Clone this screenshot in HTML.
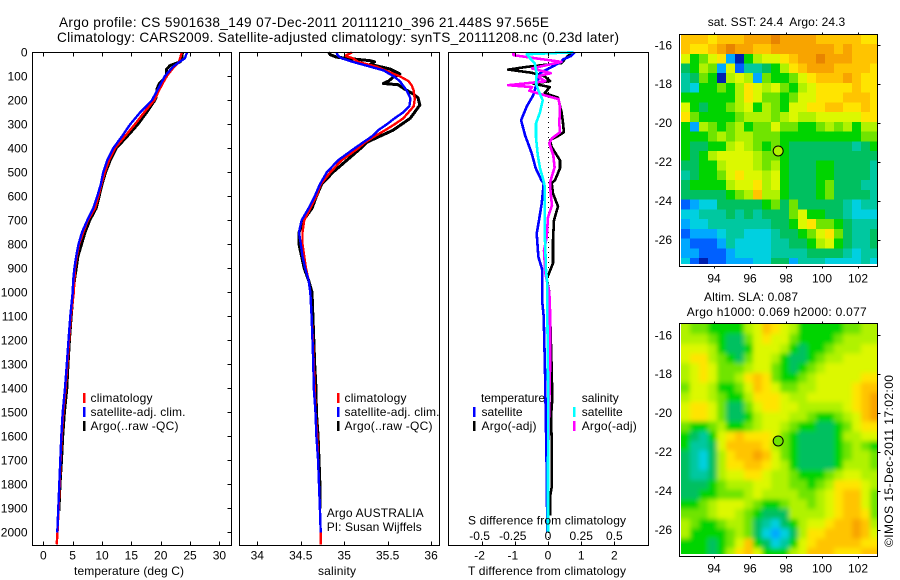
<!DOCTYPE html>
<html>
<head>
<meta charset="utf-8">
<style>
html,body{margin:0;padding:0;background:#fff;}
svg{display:block;font-family:"Liberation Sans",sans-serif;font-size:12px;fill:#000;}
</style>
</head>
<body>
<svg id="fig" xmlns="http://www.w3.org/2000/svg" width="900" height="580" viewBox="0 0 900 580">
<defs>
<filter id="sla-smooth" filterUnits="userSpaceOnUse" x="650" y="295" width="250" height="285"><feGaussianBlur stdDeviation="2.4"></feGaussianBlur></filter>
</defs>
<rect x="0" y="0" width="900" height="580" fill="#fff"></rect>
<g id="layer-maps"></g>
<g id="layer-axes"></g>
<text x="59" y="27" font-size="13.6" textLength="490">Argo profile: CS 5901638_149 07-Dec-2011 20111210_396 21.448S 97.565E</text>
<text x="57" y="42" font-size="13.6" textLength="562">Climatology: CARS2009. Satellite-adjusted climatology: synTS_20111208.nc (0.23d later)</text>
<text x="74" y="575" textLength="110">temperature (deg C)</text>
<text x="318" y="575" textLength="38">salinity</text>
<text x="468" y="575" textLength="158">T difference from climatology</text>
<text x="468" y="524.5" textLength="158">S difference from climatology</text>
<g>
<rect x="83" y="393" width="2.5" height="10" fill="#f00"></rect>
<rect x="83" y="407" width="2.5" height="10" fill="#00f"></rect>
<rect x="83" y="421" width="2.5" height="10" fill="#000"></rect>
<text x="90.5" y="402" textLength="62">climatology</text>
<text x="90.5" y="416" textLength="95">satellite-adj. clim.</text>
<text x="90.5" y="430" textLength="88">Argo(..raw -QC)</text>
</g>
<g>
<rect x="337" y="393" width="2.5" height="10" fill="#f00"></rect>
<rect x="337" y="407" width="2.5" height="10" fill="#00f"></rect>
<rect x="337" y="421" width="2.5" height="10" fill="#000"></rect>
<text x="344.5" y="402" textLength="62">climatology</text>
<text x="344.5" y="416" textLength="95">satellite-adj. clim.</text>
<text x="344.5" y="430" textLength="88">Argo(..raw -QC)</text>
<text x="326.7" y="517" textLength="97">Argo AUSTRALIA</text>
<text x="326.7" y="531" textLength="95">PI: Susan Wijffels</text>
</g>
<g>
<text x="481" y="402" textLength="64">temperature</text>
<rect x="473" y="407" width="2.5" height="10" fill="#00f"></rect>
<rect x="473" y="421" width="2.5" height="10" fill="#000"></rect>
<text x="481.5" y="416" textLength="41">satellite</text>
<text x="481.5" y="430" textLength="55">Argo(-adj)</text>
<text x="581.7" y="402" textLength="37">salinity</text>
<rect x="573" y="407" width="2.5" height="10" fill="#0ff"></rect>
<rect x="573" y="421" width="2.5" height="10" fill="#f0f"></rect>
<text x="581.7" y="416" textLength="41">satellite</text>
<text x="581.7" y="430" textLength="55">Argo(-adj)</text>
</g>
<text x="707.7" y="26" style="white-space:pre" textLength="137.5">sat. SST: 24.4  Argo: 24.3</text>
<text x="704" y="301" textLength="94">Altim. SLA: 0.087</text>
<text x="686.7" y="316" textLength="180">Argo h1000: 0.069 h2000: 0.077</text>
<text transform="translate(893,547) rotate(-90)" textLength="172">©IMOS 15-Dec-2011 17:02:00</text>
</svg>
<script>
// ---- profile data ----
var depthTicks = [0,100,200,300,400,500,600,700,800,900,1000,1100,1200,1300,1400,1500,1600,1700,1800,1900,2000];
var tempTicks = [0,5,10,15,20,25,30];
var salTicks = [34,34.5,35,35.5,36];
var salTickLabels = ['34','34.5','35','35.5','36'];
var tDiffTicks = [-2,-1,0,1,2];
var sDiffTicks = [-0.5,-0.25,0,0.25,0.5];
var lonTicks = [94,96,98,100,102];
var latTicks = [-16,-18,-20,-22,-24,-26];

var climDepths = [0,25,40,60,100,150,200,250,300,350,400,450,500,550,600,650,700,750,800,850,900,950,1000,1100,1200,1300,1400,1500,1600,1700,1800,1900,2000,2050];
var climTemp = [23.6,23.3,23.1,22.3,21.0,19.9,18.9,17.2,15.6,13.9,12.2,11.2,10.5,9.9,9.4,8.8,7.6,6.8,6.1,5.7,5.4,5.3,5.2,4.7,4.4,4.1,3.8,3.4,3.15,2.95,2.8,2.6,2.42,2.28];
var satTemp = [24.5,24.1,23.2,22.1,20.7,19.6,18.5,16.5,14.8,13.4,11.9,10.9,10.2,9.8,9.2,8.5,7.5,6.6,6.0,5.6,5.3,5.1,5.0,4.6,4.3,4.0,3.7,3.3,3.07,2.9,2.73,2.56,2.39];
var argoTempDepths = [0,25,40,55,70,100,130,150,190,200,250,300,350,400,450,500,550,600,650,700,750,800,850,900,950,1000,1100,1200,1300,1400,1500,1600,1700,1800,1910];
var argoTemp = [23.7,23.6,23.3,21.6,21,21,19.8,19.4,19.2,19,17.6,16.1,14.3,12.4,11.4,10.6,10,9.5,9,7.9,7.1,6.5,5.9,5.6,5.3,5.1,4.75,4.45,4.2,4,3.6,3.3,3.1,2.85,2.65];

var salDepths = [0,15,25,40,60,75,100,120,140,160,190,200,225,250,275,300,325,350,375,400,450,500,550,600,650,700,750,800,850,900,950,1000,1100,1200,1300,1400,1500,1600,1700,1800,1900,2000,2050];
var climSal = [35.09,35.01,35.10,35.16,35.37,35.47,35.64,35.74,35.78,35.80,35.81,35.81,35.80,35.74,35.68,35.58,35.47,35.35,35.24,35.16,34.97,34.84,34.73,34.68,34.61,34.54,34.52,34.52,34.54,34.56,34.59,34.61,34.625,34.64,34.65,34.66,34.67,34.69,34.70,34.71,34.72,34.73,34.73];
var satSal = [34.91,34.93,34.97,35.10,35.30,35.45,35.57,35.64,35.68,35.72,35.76,35.76,35.75,35.68,35.58,35.49,35.39,35.32,35.22,35.12,34.93,34.80,34.72,34.66,34.59,34.51,34.48,34.50,34.52,34.55,34.59,34.61,34.625,34.635,34.644,34.65,34.67,34.68,34.70,34.71,34.72,34.73];
var argoSalDepths = [0,10,20,25,35,40,50,70,90,105,120,130,135,150,175,190,220,250,275,300,325,350,375,400,450,500,550,600,650,700,750,800,850,900,950,1000,1100,1200,1300,1400,1500,1600,1700,1800,1900];
var argoSal = [34.82,34.84,34.91,35.03,35.30,35.35,35.30,35.53,35.64,35.56,35.51,35.45,35.62,35.68,35.80,35.85,35.87,35.81,35.76,35.66,35.56,35.41,35.26,35.19,35.03,34.87,34.74,34.68,34.63,34.53,34.48,34.48,34.51,34.54,34.59,34.63,34.64,34.65,34.66,34.675,34.68,34.70,34.71,34.72,34.72];

var dtSatDepths = [0,15,30,39,87,130,180,225,283,346,421,483,533,546,630,700,755,853,908,1047,1100,1325,1742,2000];
var dtSat = [0.8,0.7,0.45,0.41,-0.24,-0.34,-0.45,-0.64,-0.81,-0.69,-0.49,-0.37,-0.2,-0.13,-0.19,-0.27,-0.34,-0.29,-0.17,-0.17,-0.13,-0.09,-0.04,-0.02];
var dtArgoDepths = [0,15,30,45,60,72,85,100,120,130,145,170,189,249,291,333,345,366,395,450,483,533,546,588,642,700,783,879,921,942,992,1075,1325,1442,1520,1617,1812,1854,1929];
var dtArgo = [0.75,0.6,0.5,0.4,-0.6,-1.2,-0.5,-0.1,0.06,-0.45,0.05,-0.1,0.3,0.41,0.45,0.48,0.35,0.06,0.11,0.36,0.36,0.21,0.11,0.15,0.3,0.18,0.15,0.15,0.03,-0.04,0.03,0.06,0.11,0.13,0.09,0.11,0.11,0.06,0.06];
var dsSatDepths = [0,8,25,46,87,129,158,200,250,296,354,429,483,533,562,770,908,962,1075,1460,1742,2000];
var dsSat = [0.19,-0.16,-0.135,-0.10,-0.085,-0.09,-0.073,-0.04,-0.06,-0.09,-0.09,-0.077,-0.06,-0.035,-0.023,-0.023,-0.015,-0.005,-0.005,0.002,0,0];
var dsArgoDepths = [0,12,40,67,87,100,121,137,145,160,180,195,229,296,333,358,379,429,479,533,546,588,638,688,771,825,921,1000,1075,1325,1700];
var dsArgo = [-0.26,-0.26,0.10,-0.12,0.02,-0.08,-0.02,-0.30,-0.12,-0.14,-0.02,0.08,0.09,0.085,0.09,0.03,0.01,0.04,0.05,0.02,0.015,0.02,0.03,0,-0.01,-0.03,-0.02,0.01,0.015,0.015,0];

// ---- map data: colour-scale levels on a 0.5 degree grid, north to south, west to east ----
var gridLons = [92.17,92.67,93.17,93.67,94.17,94.67,95.17,95.67,96.17,96.67,97.17,97.67,98.17,98.67,99.17,99.67,100.17,100.67,101.17,101.67,102.17,102.67];
var gridLats = [-15.45,-15.95,-16.45,-16.95,-17.45,-17.95,-18.45,-18.95,-19.45,-19.95,-20.45,-20.95,-21.45,-21.95,-22.45,-22.95,-23.45,-23.95,-24.45,-24.95,-25.45,-25.95,-26.45,-26.95];
var sstRows = [
[11,11,11,10,11,11,11,12,12,12,13,12,12,12,12,11,11,11,11,11,10,10],
[11,10,10,11,12,13,12,12,11,11,12,12,12,12,12,12,12,11,12,11,11,11],
[9,6,7,9,10,2,0,6,8,9,9,10,11,12,12,13,12,12,12,11,11,11],
[5,6,8,7,2,9,1,4,4,5,6,8,10,11,12,12,12,11,11,11,11,10],
[4,5,7,6,0,8,9,8,2,7,6,6,7,9,10,11,11,11,12,11,10,10],
[4,3,6,6,7,6,8,10,9,8,9,7,6,8,9,10,10,10,10,11,10,10],
[6,6,6,6,6,6,8,10,9,7,7,6,7,9,9,10,10,10,11,11,11,10],
[9,6,5,6,6,7,8,9,6,8,7,6,9,9,10,10,11,11,10,10,11,10],
[10,7,6,6,6,6,7,8,8,8,7,8,9,8,8,9,9,9,9,9,10,10],
[6,2,8,7,6,7,8,6,7,7,9,7,7,6,6,7,8,7,8,6,8,8],
[6,6,6,7,8,7,8,8,7,7,7,6,6,6,6,6,6,6,6,6,7,7],
[6,5,5,6,6,8,9,8,7,6,7,6,5,5,5,5,5,5,5,4,5,6],
[6,5,6,8,9,9,9,9,8,7,7,6,5,5,5,5,5,5,5,5,5,5],
[5,5,6,6,8,9,9,9,8,7,8,6,5,5,5,6,6,5,5,5,5,4],
[4,5,6,6,7,9,10,9,9,8,9,6,5,5,5,6,6,5,5,5,5,4],
[5,6,6,6,6,8,9,9,10,8,9,6,5,5,5,6,7,5,5,5,4,4],
[5,5,5,5,5,6,7,8,11,8,8,6,5,5,5,6,7,5,5,5,5,4],
[1,2,3,3,5,5,5,5,5,6,7,5,7,5,5,5,5,5,4,3,4,4],
[3,3,4,4,4,5,4,5,4,5,5,5,7,9,6,6,5,5,4,3,3,3],
[2,3,3,4,4,4,4,4,4,4,5,5,6,9,10,7,7,6,5,4,4,4],
[1,2,2,2,3,4,4,3,3,3,4,5,5,6,7,9,10,7,5,4,4,5],
[2,1,1,1,2,4,3,3,3,3,4,4,5,5,6,8,9,6,5,4,4,5],
[2,2,1,1,1,2,3,3,3,3,4,4,4,4,5,5,5,5,4,3,4,4],
[3,1,0,1,1,2,2,2,3,3,5,5,2,4,4,4,3,3,3,3,4,3]
];
var slaRows = [
[8,7,7,6,6,6,6,8,9,11,10,9,8,6,6,6,6,6,7,7,8,8],
[8,8,8,7,6,5,5,7,9,10,9,9,7,6,6,6,6,7,8,8,8,8],
[9,9,9,8,6,5,5,6,9,9,9,8,6,5,6,6,7,8,8,8,9,9],
[9,10,10,8,7,6,5,7,9,9,8,6,5,5,6,7,8,8,9,9,9,9],
[8,9,10,9,7,7,7,8,9,9,7,6,5,6,7,8,9,9,9,9,9,9],
[8,9,10,9,7,7,8,10,11,10,7,6,6,7,8,9,9,9,9,9,10,10],
[7,9,9,8,6,6,7,9,11,10,9,7,7,8,8,9,9,9,9,10,11,11],
[8,9,9,8,7,6,6,8,10,10,10,9,8,8,9,9,9,9,9,10,11,12],
[9,10,10,9,7,5,5,7,9,10,10,9,9,8,8,8,8,8,9,10,11,12],
[9,10,10,9,7,5,5,6,8,9,9,9,8,8,7,6,6,7,8,9,11,12],
[7,6,6,7,8,6,6,7,8,9,9,8,7,6,6,5,5,6,7,9,10,10],
[6,5,4,6,9,10,11,10,10,10,9,7,6,5,5,5,5,6,8,8,9,9],
[6,4,4,5,9,11,11,11,11,10,8,7,6,5,5,5,5,6,7,8,7,6],
[5,4,3,5,8,10,11,11,12,11,9,7,6,5,5,5,5,6,7,8,8,7],
[5,4,3,5,8,10,10,11,11,10,9,8,6,5,5,5,5,6,8,8,8,7],
[5,4,4,5,8,9,9,10,10,9,8,8,7,6,6,6,7,8,9,9,8,8],
[5,5,5,6,7,8,8,8,9,9,8,8,7,7,6,7,8,10,10,10,9,8],
[5,5,6,6,7,7,7,8,9,8,8,8,8,7,7,8,9,10,11,11,9,7],
[6,6,7,8,9,9,9,8,7,6,6,7,8,8,7,8,9,10,11,11,9,7],
[7,7,7,8,9,9,8,7,6,5,5,5,8,8,8,8,9,10,11,11,10,7],
[8,7,6,6,7,8,8,7,5,4,3,5,6,8,9,9,10,11,11,12,11,8],
[8,6,6,6,6,7,8,7,5,3,2,3,5,8,10,10,11,11,11,12,11,9],
[6,6,6,5,6,7,9,11,6,5,3,4,6,9,10,11,11,11,11,11,10,10],
[6,6,6,5,6,8,10,11,9,6,6,6,8,9,11,11,11,10,10,10,11,11]
];
var argoLon = 97.565;
var argoLat = -21.448;
var sstMarkerLevel = 7.5;
var slaMarkerLevel = 7;

// ---- scales and styles ----
var palette = ['#0020b0','#0060ff','#00a8ff','#00d0e0','#00c8a0','#00c060','#00d400','#70e400','#b0f200','#dcf800','#ffe400','#ffc400','#f8a400','#e88400'];
function levelColor(v){
  var i = Math.max(0, Math.min(palette.length-1, Math.round(v)));
  return palette[i];
}
function xTemp(v){ return 43.3 + v*5.87; }
function xSal(v){ return 257.3 + (v-34)*86.9; }
function xDT(v){ return 548 + v*33.2; }
function xDS(v){ return 548 + v*132.8; }
function yDepth(d){ return 52.3 + d*0.24; }
function xLon(v){ return 714 + (v-94)*18; }
function yLatTop(v){ return 45 + (-16-v)*19.45; }
function yLatBot(v){ return 335 + (-16-v)*19.45; }

var NS = 'http://www.w3.org/2000/svg';
var maps = document.getElementById('layer-maps');
var axes = document.getElementById('layer-axes');
function mk(tag, attrs, parent){
  var el = document.createElementNS(NS, tag);
  for (var k in attrs) el.setAttribute(k, attrs[k]);
  parent.appendChild(el);
  return el;
}
function seg(x1,y1,x2,y2,parent){
  var el = mk('line',{x1:Math.round(x1)+0.5,y1:Math.round(y1)+0.5,x2:Math.round(x2)+0.5,y2:Math.round(y2)+0.5,stroke:'#000','stroke-width':1,'shape-rendering':'crispEdges'},parent);
  
  
  return el;
}
function label(txt,x,y,anchor,parent){
  var el = mk('text',{x:x,y:y,'text-anchor':anchor},parent);
  el.textContent = txt;
  
  
  return el;
}
function frame(x,y,w,h,parent){
  var el = mk('rect',{x:x+0.5,y:y+0.5,width:w,height:h,fill:'none',stroke:'#000','stroke-width':1,'shape-rendering':'crispEdges'},parent);
  
  
  return el;
}
function curve(xs,ds,xf,color,w,name,parent){
  var pts = [];
  for (var i=0;i<xs.length;i++) pts.push(xf(xs[i]).toFixed(1)+','+yDepth(ds[i]).toFixed(1));
  var el = mk('polyline',{points:pts.join(' '),fill:'none',stroke:color,'stroke-width':w,'stroke-linejoin':'round','stroke-linecap':'butt','shape-rendering':'crispEdges'},parent);
  
  
  return el;
}

// ---- temperature panel ----
var p1 = mk('g',{},axes);


curve(argoTemp,argoTempDepths,xTemp,'#000',3,'argo-temperature-line',p1);
curve(climTemp,climDepths,xTemp,'#f00',2.4,'climatology-temperature-line',p1);
curve(satTemp,climDepths,xTemp,'#00f',2.4,'satellite-temperature-line',p1);
frame(32,52,199,493,p1);
tempTicks.forEach(function(t){
  seg(xTemp(t),52,xTemp(t),56,p1);
  seg(xTemp(t),541,xTemp(t),545,p1);
  label(String(t),xTemp(t),559.5,'middle',p1);
});
depthTicks.forEach(function(d){
  seg(227,yDepth(d),231,yDepth(d),p1);
  label(String(d),27.5,yDepth(d)+4.3,'end',p1);
});

// ---- salinity panel ----
var p2 = mk('g',{},axes);


curve(argoSal,argoSalDepths,xSal,'#000',3,'argo-salinity-line',p2);
curve(climSal,salDepths,xSal,'#f00',2.4,'climatology-salinity-line',p2);
curve(satSal,salDepths,xSal,'#00f',2.4,'satellite-salinity-line',p2);
frame(239,52,200,493,p2);
salTicks.forEach(function(s,i){
  seg(xSal(s),52,xSal(s),56,p2);
  seg(xSal(s),541,xSal(s),545,p2);
  label(salTickLabels[i],xSal(s),559.5,'middle',p2);
});

// ---- difference panel ----
var p3 = mk('g',{},axes);


var zero = mk('line',{x1:548.5,y1:52,x2:548.5,y2:545,stroke:'#000','stroke-width':1,'stroke-dasharray':'1 4','shape-rendering':'crispEdges'},p3);


curve(dtArgo,dtArgoDepths,xDT,'#000',2.6,'argo-t-difference-line',p3);
curve(dtSat,dtSatDepths,xDT,'#00f',2.6,'satellite-t-difference-line',p3);
curve(dsArgo,dsArgoDepths,xDS,'#f0f',2.6,'argo-s-difference-line',p3);
curve(dsSat,dsSatDepths,xDS,'#0ff',2.6,'satellite-s-difference-line',p3);
frame(448,52,200,493,p3);
tDiffTicks.forEach(function(t){
  seg(xDT(t),52,xDT(t),56,p3);
  seg(xDT(t),541,xDT(t),545,p3);
  label(String(t),xDT(t)-(t<0?2:0),559.5,'middle',p3);
});
sDiffTicks.forEach(function(s){
  label(String(s),xDS(s)-(s<0?2:0),540,'middle',p3);
});

// ---- maps ----
function drawMap(rows,yLat,top,bottom,clipId,name,markerLevel,smooth){
  var g = mk('g',{},maps);
  
  
  var cp = mk('clipPath',{id:clipId},g);
  mk('rect',{x:681,y:top+1,width:196.5,height:bottom-top-3},cp);
  var clipped = mk('g',{'clip-path':'url(#'+clipId+')'},g);
  var cells = mk('g',smooth?{filter:'url(#sla-smooth)','shape-rendering':'crispEdges'}:{'shape-rendering':'crispEdges'},clipped);
  var pad = smooth ? 12 : 0;
  rows.forEach(function(row,r){
    row.forEach(function(v,c){
      var x0 = xLon(gridLons[c]);
      var y0 = yLat(gridLats[r]);
      var w = 9.5, h = 10.2;
      if (c === 0) { x0 -= pad; w += pad; }
      if (c === row.length-1) { w += pad; }
      if (r === 0) { y0 -= pad; h += pad; }
      if (r === rows.length-1) { h += pad; }
      var cell = mk('rect',{x:x0.toFixed(1),y:y0.toFixed(1),width:w,height:h,fill:levelColor(v)},cells);
      
      
    });
  });
  frame(679,top,198,bottom-top,g);
  lonTicks.forEach(function(l){
    seg(xLon(l),top-2,xLon(l),top,g);
    seg(xLon(l),bottom,xLon(l),bottom+2,g);
    label(String(l),xLon(l),bottom+16.5,'middle',g);
  });
  latTicks.forEach(function(l){
    seg(877,yLat(l),880,yLat(l),g);
    label(String(l),672,yLat(l)+4.3,'end',g);
  });
  var dot = mk('circle',{cx:xLon(argoLon),cy:yLat(argoLat),r:5,fill:levelColor(markerLevel),stroke:'#000','stroke-width':1},g);
  
  
}
drawMap(sstRows,yLatTop,34,266,'clip-sst','sst-map',sstMarkerLevel,false);
drawMap(slaRows,yLatBot,323,556,'clip-sla','sla-map',slaMarkerLevel,true);
</script>
</body>
</html>
